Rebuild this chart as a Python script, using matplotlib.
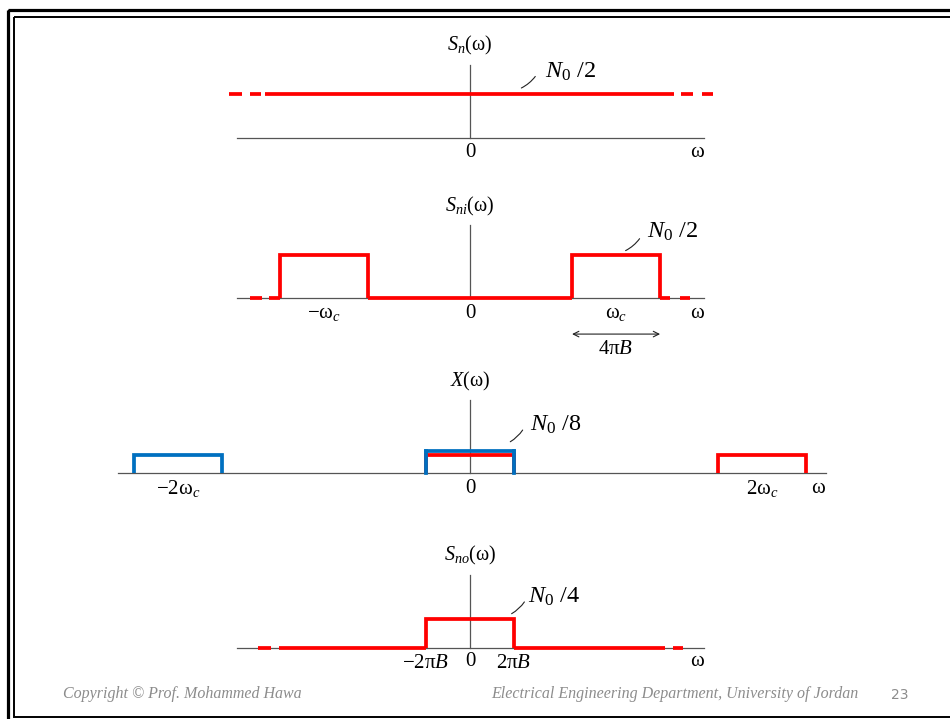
import matplotlib
matplotlib.use("Agg")
import matplotlib.pyplot as plt
from matplotlib.patches import Rectangle

plt.rcParams['font.family'] = ['Liberation Serif', 'DejaVu Serif']
plt.rcParams['mathtext.fontset'] = 'custom'
plt.rcParams['mathtext.rm'] = 'Liberation Serif'
plt.rcParams['mathtext.it'] = 'Liberation Serif:italic'
plt.rcParams['mathtext.bf'] = 'Liberation Serif:bold'

# ---------------- data (units: half-bandwidth 2*pi*B = 1) ----------------
wc = 3.32            # carrier frequency omega_c
hb = 1.0             # half bandwidth 2*pi*B
lev_n = 1.0          # N0/2 level
lev_ni = 0.98        # N0/2 level (bandpass)
lev_x_red = 0.41     # N0/8 level, red components
lev_x_blue = 0.50    # N0/8 level, blue (overlapping) component
lev_no = 0.66        # N0/4 level

# panel 1: white noise, solid part and dashed continuation
p1_solid = (-4.66, 4.64)
p1_dashes = [(-5.48, -5.18), (-5.0, -4.75), (4.80, 5.07), (5.27, 5.52)]
# panel 2: bandpass noise
p2_dashes = [(-5.0, -4.73), (-4.57, -4.32), (4.32, 4.55), (4.77, 5.00)]
# panel 4: output noise
p4_solid = [(-4.34, -hb), (hb, 4.43)]
p4_dashes = [(-4.82, -4.52), (4.61, 4.84)]

titles = [r'$S_{n}(\mathrm{\omega})$', r'$S_{ni}(\mathrm{\omega})$',
          r'$X(\mathrm{\omega})$', r'$S_{no}(\mathrm{\omega})$']
levels_txt = [r'$N_{\mathrm{0}}$ /2', r'$N_{\mathrm{0}}$ /2',
              r'$N_{\mathrm{0}}$ /8', r'$N_{\mathrm{0}}$ /4']
ticks2 = [(-wc, r'$-\mathrm{\omega}_{c}$'), (0, '0'), (wc, r'$\mathrm{\omega}_{c}$')]
ticks3 = [(-2 * wc, r'$-2\mathrm{\omega}_{c}$'), (0, '0'), (2 * wc, r'$2\mathrm{\omega}_{c}$')]
ticks4 = [(-hb, r'$-2\mathrm{\pi}B$'), (0, '0'), (hb, r'$2\mathrm{\pi}B$')]

RED = '#FF0000'
BLUE = '#0070C0'
AX = '#555555'

W, H = 950, 719
S = 44.0  # pixels per unit
fig = plt.figure(figsize=(W / 100, H / 100), dpi=100)
fig.patch.set_facecolor('white')


def panel(cx, cy, y0, y1):
    ax = fig.add_axes([0, 1 - y1 / H, 1, (y1 - y0) / H])
    ax.set_xlim((0 - cx) / S, (W - cx) / S)
    ax.set_ylim((cy - y1) / S, (cy - y0) / S)
    ax.axis('off')
    return ax


LW = 2.7
TFS = 14.5
LFS = 15
NFS = 17.5


def axes_lines(ax, xl, xr, ytop):
    ax.plot([xl, xr], [0, 0], color=AX, lw=0.9, zorder=1)
    ax.plot([0, 0], [0, ytop], color=AX, lw=0.9, zorder=1)


def seg(ax, a, b, y, color=RED):
    ax.plot([a, b], [y, y], color=color, lw=LW, solid_capstyle='butt', zorder=3)


def rect(ax, a, b, h, color=RED, z=3):
    ax.plot([a, a, b, b], [0, h, h, 0], color=color, lw=LW,
            solid_joinstyle='miter', solid_capstyle='butt', zorder=z)


def leader(ax, p0, p1):
    ax.annotate('', xy=p0, xytext=p1,
                arrowprops=dict(arrowstyle='-', color='#222222', lw=0.8,
                                connectionstyle='arc3,rad=-0.15'))


# ---------------- panel 1 ----------------
ax1 = panel(470, 138, 25, 175)
axes_lines(ax1, -5.3, 5.32, 1.66)
seg(ax1, p1_solid[0], p1_solid[1], lev_n)
for a, b in p1_dashes:
    seg(ax1, a, b, lev_n)
ax1.text(0, 2.1, titles[0], ha='center', va='center', fontsize=TFS)
ax1.text(1.70, 1.5, levels_txt[0], ha='left', va='center', fontsize=NFS)
leader(ax1, (1.11, 1.11), (1.52, 1.45))
ax1.text(0, -0.33, '0', ha='center', va='center', fontsize=LFS)
ax1.text(5.16, -0.33, r'$\mathrm{\omega}$', ha='center', va='center', fontsize=LFS)

# ---------------- panel 2 ----------------
ax2 = panel(470, 298, 185, 365)
axes_lines(ax2, -5.3, 5.32, 1.66)
rect(ax2, -wc - hb, -wc + hb, lev_ni)
rect(ax2, wc - hb, wc + hb, lev_ni)
seg(ax2, -wc + hb, wc - hb, 0)
for a, b in p2_dashes:
    seg(ax2, a, b, 0)
ax2.text(0, 2.07, titles[1], ha='center', va='center', fontsize=TFS)
ax2.text(4.02, 1.5, levels_txt[1], ha='left', va='center', fontsize=NFS)
leader(ax2, (3.48, 1.05), (3.89, 1.40))
for x, t in ticks2:
    ax2.text(x, -0.35, t, ha='center', va='center', fontsize=LFS)
ax2.text(5.16, -0.35, r'$\mathrm{\omega}$', ha='center', va='center', fontsize=LFS)
ax2.annotate('', xy=(wc - hb, -0.82), xytext=(wc + hb, -0.82),
             arrowprops=dict(arrowstyle='<->', color='#222222', lw=0.8,
                             shrinkA=0, shrinkB=0, mutation_scale=10))
ax2.text(wc, -1.18, r'$4\mathrm{\pi}B$', ha='center', va='center', fontsize=LFS)

# ---------------- panel 3 ----------------
ax3 = panel(470, 473, 365, 505)
axes_lines(ax3, -8.0, 8.09, 1.66)
rect(ax3, -2 * wc - hb, -2 * wc + hb, lev_x_red, color=BLUE)
rect(ax3, -hb, hb, lev_x_red, color=RED, z=3)
rect(ax3, -hb, hb, lev_x_blue, color=BLUE, z=2)
ax3.plot([-hb, -hb], [0, lev_x_blue], color=BLUE, lw=LW, zorder=4)
ax3.plot([hb, hb], [0, lev_x_blue], color=BLUE, lw=LW, zorder=4)
rect(ax3, 2 * wc - hb, 2 * wc + hb, lev_x_red, color=RED)
ax3.text(0, 2.09, titles[2], ha='center', va='center', fontsize=TFS)
ax3.text(1.36, 1.09, levels_txt[2], ha='left', va='center', fontsize=NFS)
leader(ax3, (0.86, 0.68), (1.23, 1.03))
for x, t in ticks3:
    ax3.text(x, -0.36, t, ha='center', va='center', fontsize=LFS)
ax3.text(7.93, -0.36, r'$\mathrm{\omega}$', ha='center', va='center', fontsize=LFS)

# ---------------- panel 4 ----------------
ax4 = panel(470, 648, 535, 682)
axes_lines(ax4, -5.3, 5.32, 1.66)
rect(ax4, -hb, hb, lev_no)
for a, b in p4_solid:
    seg(ax4, a, b, 0)
for a, b in p4_dashes:
    seg(ax4, a, b, 0)
ax4.text(0, 2.11, titles[3], ha='center', va='center', fontsize=TFS)
ax4.text(1.32, 1.16, levels_txt[3], ha='left', va='center', fontsize=NFS)
leader(ax4, (0.89, 0.75), (1.27, 1.10))
ax4.text(-hb, -0.36, ticks4[0][1], ha='center', va='center', fontsize=LFS)
ax4.text(0, -0.31, '0', ha='center', va='center', fontsize=LFS)
ax4.text(hb, -0.36, ticks4[2][1], ha='center', va='center', fontsize=LFS)
ax4.text(5.16, -0.31, r'$\mathrm{\omega}$', ha='center', va='center', fontsize=LFS)

# ---------------- slide frame and footer ----------------
fr = fig.add_axes([0, 0, 1, 1])
fr.set_xlim(0, W)
fr.set_ylim(H, 0)
fr.axis('off')
fr.set_zorder(-1)
fr.add_patch(Rectangle((7.5, 9.5), 1000, 1000, fill=False, ec='black', lw=2.3))
fr.add_patch(Rectangle((14, 16.5), 1000, 700.5, fill=False, ec='black', lw=1.4))

fig.text(63 / W, 1 - 694 / H, 'Copyright © Prof. Mohammed Hawa', fontsize=11.5,
         style='italic', color='#8c8c8c', ha='left', va='center')
fig.text(858 / W, 1 - 694 / H, 'Electrical Engineering Department, University of Jordan',
         fontsize=11.5, style='italic', color='#8c8c8c', ha='right', va='center')
fig.text(900 / W, 1 - 695 / H, '23', fontsize=10, color='#8c8c8c', ha='center',
         va='center', family='DejaVu Sans')

fig.savefig('out.png', dpi=100)
